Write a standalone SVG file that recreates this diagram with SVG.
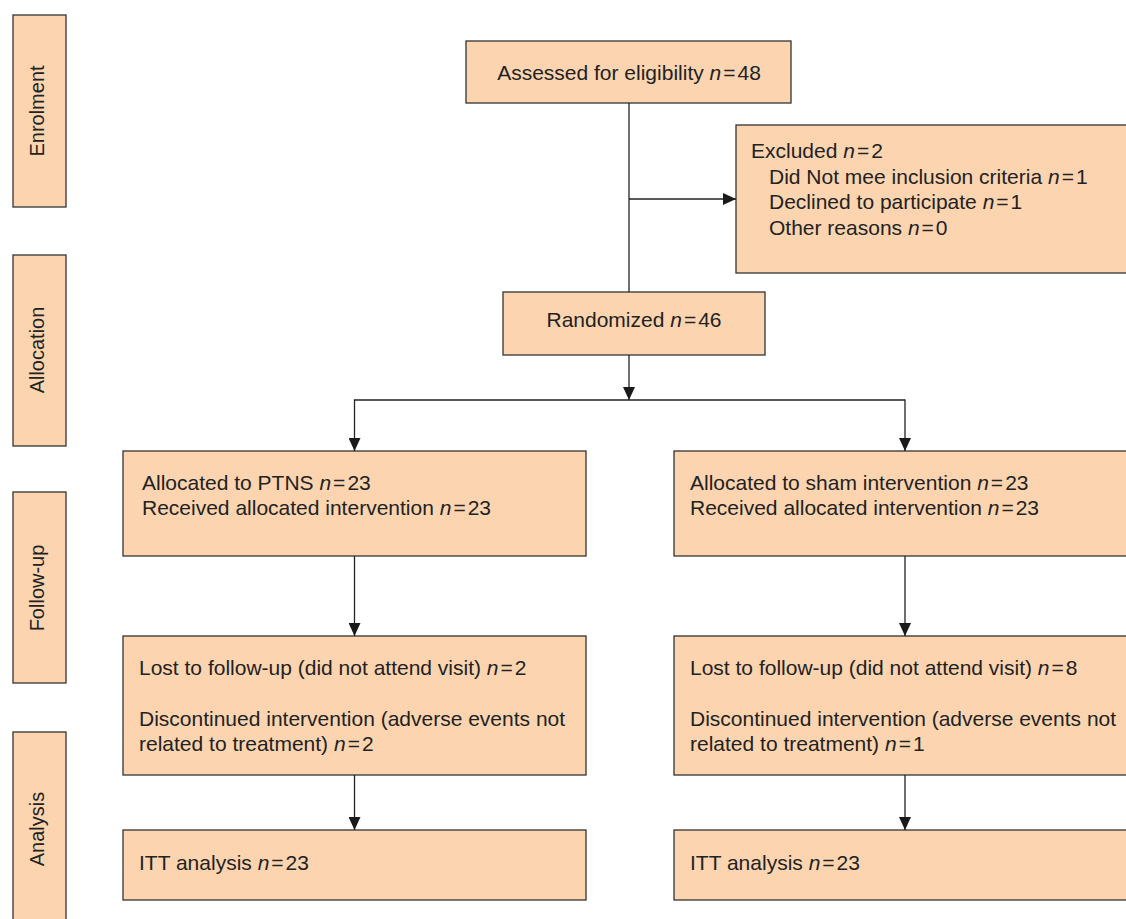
<svg xmlns="http://www.w3.org/2000/svg" width="1126" height="919" viewBox="0 0 1126 919">
<defs>
<marker id="ah" viewBox="0 0 13 12" refX="13" refY="6" markerWidth="13" markerHeight="12" markerUnits="userSpaceOnUse" orient="auto">
<path d="M0,0 L13,6 L0,12 Z" fill="#1a1a1a"/>
</marker>
</defs>
<style>
.box{fill:#fcd5b0;stroke:#333;stroke-width:1.3}
.t{font-family:"Liberation Sans",Arial,sans-serif;font-size:21px;fill:#222}
.s{font-family:"Liberation Sans",Arial,sans-serif;font-size:20px;fill:#222}
.i{font-style:italic}
.c{fill:none;stroke:#222;stroke-width:1.3}
</style>
<g id="side-enrolment"><rect class="box" x="13" y="15" width="53" height="192"/><text class="s" transform="translate(44,111) rotate(-90)" text-anchor="middle">Enrolment</text></g>
<g id="side-allocation"><rect class="box" x="13" y="255" width="53" height="191"/><text class="s" transform="translate(44,350) rotate(-90)" text-anchor="middle">Allocation</text></g>
<g id="side-followup"><rect class="box" x="13" y="492" width="53" height="191"/><text class="s" transform="translate(44,588) rotate(-90)" text-anchor="middle">Follow-up</text></g>
<g id="side-analysis"><rect class="box" x="13" y="732" width="53" height="200"/><text class="s" transform="translate(44,829) rotate(-90)" text-anchor="middle">Analysis</text></g>

<g id="assessed"><rect class="box" x="466" y="41" width="325" height="62"/><text class="t" x="629" y="80" text-anchor="middle">Assessed for eligibility <tspan class="i">n</tspan><tspan dx="2">=</tspan><tspan dx="2">48</tspan></text></g>
<g id="excluded"><rect class="box" x="736" y="125" width="400" height="148"/>
<text class="t" x="751" y="158">Excluded <tspan class="i">n</tspan><tspan dx="2">=</tspan><tspan dx="2">2</tspan></text>
<text class="t" x="769" y="184">Did Not mee inclusion criteria <tspan class="i">n</tspan><tspan dx="2">=</tspan><tspan dx="2">1</tspan></text>
<text class="t" x="769" y="209">Declined to participate <tspan class="i">n</tspan><tspan dx="2">=</tspan><tspan dx="2">1</tspan></text>
<text class="t" x="769" y="235">Other reasons <tspan class="i">n</tspan><tspan dx="2">=</tspan><tspan dx="2">0</tspan></text></g>
<g id="randomized"><rect class="box" x="503" y="292" width="262" height="63"/><text class="t" x="634" y="327" text-anchor="middle">Randomized <tspan class="i">n</tspan><tspan dx="2">=</tspan><tspan dx="2">46</tspan></text></g>

<g id="alloc-ptns"><rect class="box" x="123" y="451" width="463" height="105"/>
<text class="t" x="142" y="490">Allocated to PTNS <tspan class="i">n</tspan><tspan dx="2">=</tspan><tspan dx="2">23</tspan></text>
<text class="t" x="142" y="515">Received allocated intervention <tspan class="i">n</tspan><tspan dx="2">=</tspan><tspan dx="2">23</tspan></text></g>
<g id="alloc-sham"><rect class="box" x="674" y="451" width="470" height="105"/>
<text class="t" x="690" y="490">Allocated to sham intervention <tspan class="i">n</tspan><tspan dx="2">=</tspan><tspan dx="2">23</tspan></text>
<text class="t" x="690" y="515">Received allocated intervention <tspan class="i">n</tspan><tspan dx="2">=</tspan><tspan dx="2">23</tspan></text></g>

<g id="lost-ptns"><rect class="box" x="123" y="636" width="463" height="139"/>
<text class="t" x="139" y="675">Lost to follow-up (did not attend visit) <tspan class="i">n</tspan><tspan dx="2">=</tspan><tspan dx="2">2</tspan></text>
<text class="t" x="139" y="726">Discontinued intervention (adverse events not</text>
<text class="t" x="139" y="751">related to treatment) <tspan class="i">n</tspan><tspan dx="2">=</tspan><tspan dx="2">2</tspan></text></g>
<g id="lost-sham"><rect class="box" x="674" y="636" width="470" height="139"/>
<text class="t" x="690" y="675">Lost to follow-up (did not attend visit) <tspan class="i">n</tspan><tspan dx="2">=</tspan><tspan dx="2">8</tspan></text>
<text class="t" x="690" y="726">Discontinued intervention (adverse events not</text>
<text class="t" x="690" y="751">related to treatment) <tspan class="i">n</tspan><tspan dx="2">=</tspan><tspan dx="2">1</tspan></text></g>

<g id="itt-ptns"><rect class="box" x="123" y="830" width="463" height="70"/><text class="t" x="139" y="870">ITT analysis <tspan class="i">n</tspan><tspan dx="2">=</tspan><tspan dx="2">23</tspan></text></g>
<g id="itt-sham"><rect class="box" x="674" y="830" width="470" height="70"/><text class="t" x="690" y="870">ITT analysis <tspan class="i">n</tspan><tspan dx="2">=</tspan><tspan dx="2">23</tspan></text></g>

<g id="connectors">
<line class="c" x1="629" y1="103" x2="629" y2="292"/>
<line class="c" x1="629" y1="199" x2="736" y2="199" marker-end="url(#ah)"/>
<line class="c" x1="629" y1="355" x2="629" y2="400" marker-end="url(#ah)"/>
<line class="c" x1="354.5" y1="400" x2="905" y2="400"/>
<line class="c" x1="354.5" y1="399.4" x2="354.5" y2="451" marker-end="url(#ah)"/>
<line class="c" x1="905" y1="399.4" x2="905" y2="451" marker-end="url(#ah)"/>
<line class="c" x1="354.5" y1="556" x2="354.5" y2="636" marker-end="url(#ah)"/>
<line class="c" x1="905" y1="556" x2="905" y2="636" marker-end="url(#ah)"/>
<line class="c" x1="354.5" y1="775" x2="354.5" y2="830" marker-end="url(#ah)"/>
<line class="c" x1="905" y1="775" x2="905" y2="830" marker-end="url(#ah)"/>
</g>
</svg>
